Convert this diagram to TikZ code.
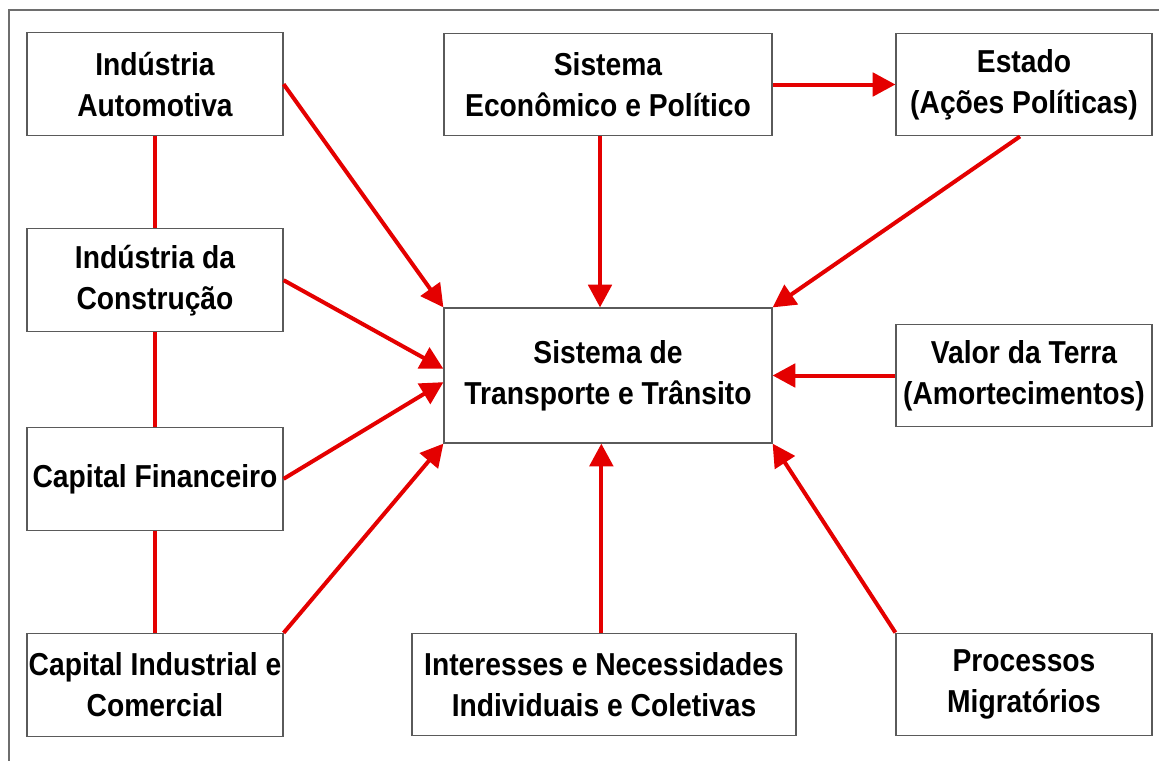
\documentclass[tikz,border=0pt]{standalone}
\usepackage{fontspec}
\setmainfont{Liberation Sans}[FakeStretch=0.89]
\usetikzlibrary{positioning,arrows.meta}
\definecolor{linkred}{RGB}{228,0,0}
\definecolor{boxgray}{RGB}{90,90,90}
\definecolor{framegray}{RGB}{110,110,110}
\tikzset{
  factor/.style={draw=boxgray, line width=0.9pt, fill=white, align=center, inner sep=0pt,
    minimum width=192pt, minimum height=77pt, font=\fontsize{23.8}{30.75}\selectfont\bfseries},
  influence/.style={draw=linkred, line width=3pt, -{Triangle[length=17pt,width=17.5pt]}},
  link/.style={draw=linkred, line width=3pt},
}

\begin{document}
\begin{tikzpicture}[x=0.75pt, y=-0.75pt, on grid]
  \useasboundingbox (0,0) rectangle (1159,760);
  \clip (0,0) rectangle (1159,760);
  \draw[framegray, line width=1.1pt] (9,10) rectangle (1190,790);

  \node[factor, minimum width=246pt, minimum height=101.25pt] (sistTT) at (608,375.5) {Sistema de\\Transporte e Trânsito};
  \node[factor] (indAuto) [above left=218.5pt and 339.75pt of sistTT] {Indústria\\Automotiva};
  \node[factor] (indConst) [below=147pt of indAuto] {Indústria da\\Construção};
  \node[factor] (capFin) [below=149pt of indConst] {Capital Financeiro};
  \node[factor] (capInd) [below=154.5pt of capFin] {Capital Industrial e\\Comercial};
  \node[factor, minimum width=246pt] (sistEP) [above=218.25pt of sistTT] {Sistema\\Econômico e Político};
  \node[factor] (estado) [above right=218.25pt and 312pt of sistTT] {Estado\\(Ações Políticas)};
  \node[factor] (valTerra) [right=312pt of sistTT] {Valor da Terra\\(Amortecimentos)};
  \node[factor, minimum width=288pt] (interesses) [below=231.75pt of sistTT, xshift=-3pt] {Interesses e Necessidades\\Individuais e Coletivas};
  \node[factor] (migr) [below=231.75pt of valTerra] {Processos\\Migratórios};

  % left column
  \draw[link] (indAuto) -- (indConst);
  \draw[link] (indConst) -- (capFin);
  \draw[link] (capFin) -- (capInd);

  % influences on the transport system
  \draw[influence] (indAuto.east) -- (sistTT.north west);
  \draw[influence] (indConst.east) -- ([yshift=5pt]sistTT.west);
  \draw[influence] (capFin.east) -- ([yshift=-5pt]sistTT.west);
  \draw[influence] (capInd.north east) -- (sistTT.south west);
  \draw[influence] ([xshift=-6pt]sistEP.south) -- ([xshift=-6pt]sistTT.north);
  \draw[influence] (sistEP.east) -- (estado.west);
  \draw[influence] ([xshift=-3pt]estado.south) -- (sistTT.north east);
  \draw[influence] (valTerra.west) -- (sistTT.east);
  \draw[influence] ([xshift=-2pt]interesses.north) -- ([xshift=-2pt]interesses.north |- sistTT.south);
  \draw[influence] (migr.north west) -- (sistTT.south east);
\end{tikzpicture}
\end{document}
